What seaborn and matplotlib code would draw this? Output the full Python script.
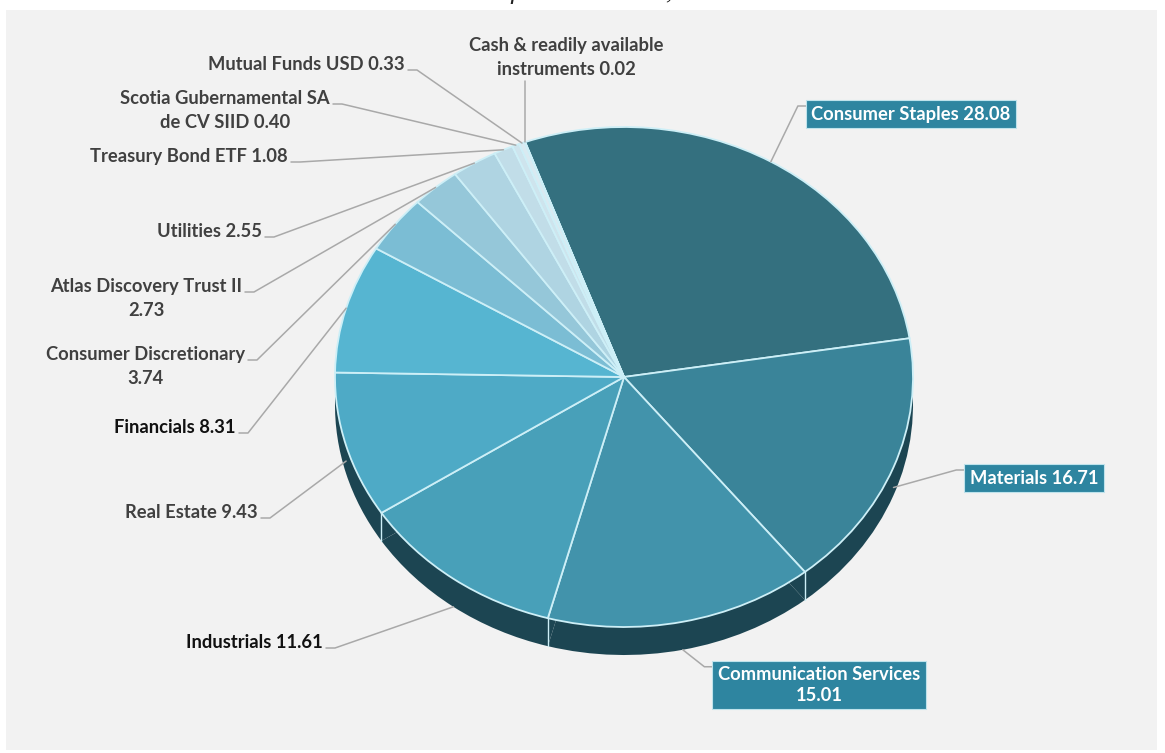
import numpy as np
import matplotlib
matplotlib.use("Agg")
import matplotlib.pyplot as plt
import seaborn as sns
from matplotlib.patches import Rectangle

# ---------------- data ----------------
sectors = ["Consumer Staples", "Materials", "Communication Services",
           "Industrials", "Real Estate", "Financials", "Consumer Discretionary",
           "Atlas Discovery Trust II", "Utilities", "Treasury Bond ETF",
           "Scotia Gubernamental SA de CV SIID", "Mutual Funds USD",
           "Cash & readily available instruments"]
weights = [28.08, 16.71, 15.01, 11.61, 9.43, 8.31, 3.74, 2.73, 2.55, 1.08,
           0.40, 0.33, 0.02]
label_names = ["Consumer Staples", "Materials", "Communication Services\n",
               "Industrials", "Real Estate", "Financials",
               "Consumer Discretionary\n", "Atlas Discovery Trust II\n",
               "Utilities", "Treasury Bond ETF",
               "Scotia Gubernamental SA\nde CV SIID", "Mutual Funds USD",
               "Cash & readily available\ninstruments"]
title_text = "as of December 31, 2023"

# ---------------- style ----------------
sns.set_theme(style="white")
plt.rcParams['font.family'] = ['Lato', 'DejaVu Sans']

palette = sns.color_palette(["#34707f", "#3a8499", "#4293ab", "#48a0b9",
                             "#4eaac6", "#56b5d1", "#7bbdd4", "#95c7d9",
                             "#afd4e2", "#c1dde8", "#cee4ed", "#d9eaf1",
                             "#e6f1f5"])
side_color = "#1c4552"
edge_color = "#cdeff7"
leader_color = "#a9a9a9"
box_color = "#2e85a0"
FS = 13.2
LS = 1.5

# layout (pixel positions from top-left) : (x, y, kind)
layout = [(911, 114, 'box'), (1034, 478, 'box'), (819, 685, 'box'),
          (323, 642, 'right'), (258, 512, 'right'), (236, 427, 'right'),
          (245, 354, 'right'), (242, 286, 'right'), (262, 231, 'right'),
          (288, 156, 'right'), (330, 98, 'right'), (405, 64, 'right'),
          (566, 45, 'top')]
dark_labels = {"Industrials", "Financials"}

W, H = 1165, 753
CX, CY, RX, RY, DEPTH = 624, 377, 289, 250, 28
START = 110

fig = plt.figure(figsize=(W / 100, H / 100), dpi=100, facecolor="white")

bg = fig.add_axes([0, 0, 1, 1], zorder=0)
bg.set_xlim(0, W); bg.set_ylim(H, 0); bg.axis("off")
bg.add_patch(Rectangle((6, 10), 1151, 740, facecolor="#f2f2f2", edgecolor="none"))

d = DEPTH / RY
pad = 0.03
axp = fig.add_axes([(CX - (1 + pad) * RX) / W, (H - CY - (1 + pad + d) * RY) / H,
                    2 * (1 + pad) * RX / W, (2 + 2 * pad + d) * RY / H], zorder=1)

# side wall (shifted pie + band)
axp.pie(weights, colors=[side_color] * len(weights), startangle=START,
        counterclock=False, center=(0, -d),
        wedgeprops=dict(edgecolor="none", zorder=1))
axp.add_patch(Rectangle((-1, -d), 2, d, facecolor=side_color, edgecolor="none", zorder=1))

total = float(np.sum(weights))
cum = np.cumsum(weights)
bounds = np.deg2rad(START - cum / total * 360.0)
for a in np.concatenate([[np.deg2rad(START)], bounds]):
    if np.sin(a) < -0.05:
        axp.plot([np.cos(a), np.cos(a)], [np.sin(a), np.sin(a) - d],
                 color=edge_color, lw=1.0, zorder=2)

# top face
axp.pie(weights, colors=palette, startangle=START, counterclock=False,
        wedgeprops=dict(edgecolor=edge_color, linewidth=1.3, zorder=3))
axp.set_xlim(-1 - pad, 1 + pad)
axp.set_ylim(-1 - pad - d, 1 + pad)
axp.set_aspect("auto")
axp.axis("off")

# overlay for labels and leaders
ov = fig.add_axes([0, 0, 1, 1], zorder=2)
ov.set_xlim(0, W); ov.set_ylim(H, 0); ov.axis("off")
ov.patch.set_alpha(0)

mids = np.deg2rad(START - (cum - np.asarray(weights) / 2) / total * 360.0)
fig.canvas.draw()
renderer = fig.canvas.get_renderer()

for name, lname, w, a, (lx, ly, kind) in zip(sectors, label_names, weights, mids, layout):
    s = np.sin(a)
    ey = s - (d * min(1.0, 2 * abs(s)) if s < 0 else 0.0)
    disp = axp.transData.transform((np.cos(a), ey))
    ex, eyy = ov.transData.inverted().transform(disp)
    sep = "" if lname.endswith("\n") else " "
    text = f"{lname}{sep}{w:.2f}"
    color = "#111111" if name in dark_labels else "#404040"
    if kind == 'box':
        t = ov.text(lx, ly, text, ha="center", va="center", fontsize=FS,
                    fontweight="bold", color="white", multialignment="center",
                    linespacing=1.25,
                    bbox=dict(boxstyle="square,pad=0.3", facecolor=box_color,
                              edgecolor="#bfe3ec", linewidth=0.8))
        fig.canvas.draw()
        bb = t.get_bbox_patch().get_window_extent(renderer)
        x0, y0 = ov.transData.inverted().transform((bb.x0, bb.y1))
        sy = y0 + 6
        ov.plot([x0, x0 - 8, ex], [sy, sy, eyy], color=leader_color, lw=1.1)
    elif kind == 'right':
        nlines = text.count("\n") + 1
        yc = ly + 12 * (nlines - 1)
        ov.text(lx, yc, text, ha="right", va="center", fontsize=FS,
                fontweight="bold", color=color, multialignment="center",
                linespacing=LS)
        sy = ly + 6
        ov.plot([lx + 3, lx + 12, ex], [sy, sy, eyy], color=leader_color, lw=1.1)
    else:
        ov.text(lx, ly + 12, text, ha="center", va="center", fontsize=FS,
                fontweight="bold", color=color, multialignment="center",
                linespacing=LS)
        ov.plot([ex, ex], [ly + 36, eyy], color=leader_color, lw=1.1)

fig.text(600 / W, 1 + 1.5 / H, title_text, ha="center", va="baseline",
         fontsize=19, style="italic", family=["Liberation Serif", "DejaVu Serif"],
         color="#222222")

fig.savefig("out.png", dpi=100, facecolor="white")
